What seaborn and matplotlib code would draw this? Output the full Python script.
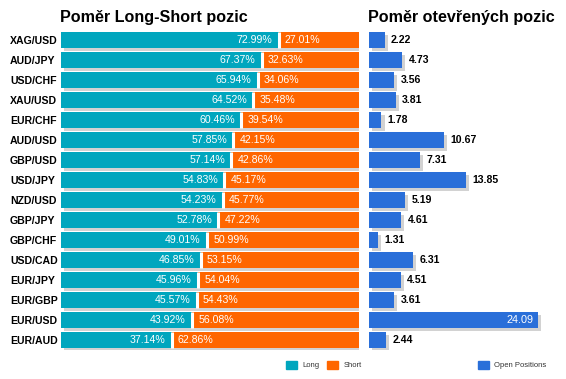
import matplotlib
matplotlib.use("Agg")
import matplotlib.pyplot as plt
import matplotlib.patheffects as pe
from matplotlib.patches import Patch
import seaborn as sns

pairs = ["XAG/USD", "AUD/JPY", "USD/CHF", "XAU/USD", "EUR/CHF", "AUD/USD",
         "GBP/USD", "USD/JPY", "NZD/USD", "GBP/JPY", "GBP/CHF", "USD/CAD",
         "EUR/JPY", "EUR/GBP", "EUR/USD", "EUR/AUD"]
long_pct = [72.99, 67.37, 65.94, 64.52, 60.46, 57.85, 57.14, 54.83,
            54.23, 52.78, 49.01, 46.85, 45.96, 45.57, 43.92, 37.14]
short_pct = [27.01, 32.63, 34.06, 35.48, 39.54, 42.15, 42.86, 45.17,
             45.77, 47.22, 50.99, 53.15, 54.04, 54.43, 56.08, 62.86]
open_pos = [2.22, 4.73, 3.56, 3.81, 1.78, 10.67, 7.31, 13.85,
            5.19, 4.61, 1.31, 6.31, 4.51, 3.61, 24.09, 2.44]

TEAL = "#00a6be"
ORANGE = "#ff6600"
BLUE = "#2a6fd9"
SHADOW = "#d2d2d2"

sns.set_style("white")
plt.rcParams["font.family"] = ["Liberation Sans", "DejaVu Sans"]
plt.rcParams["text.color"] = "black"
plt.rcParams["ytick.color"] = "black"

W, H = 566, 379
fig = plt.figure(figsize=(W / 100, H / 100), dpi=100)
ax1 = fig.add_axes([61 / W, 1 - 350 / H, 298 / W, 320 / H])
ax2 = fig.add_axes([369 / W, 1 - 350 / H, 189 / W, 320 / H])

shadow = [pe.SimplePatchShadow(offset=(2.2, -2.3), shadow_rgbFace=SHADOW, alpha=1), pe.Normal()]
bar_kw = dict(saturation=1, width=0.78, linewidth=0, edgecolor="none")

# left: stacked long/short (total bar in orange, long on top)
totals = [l + s for l, s in zip(long_pct, short_pct)]
sns.barplot(x=totals, y=pairs, color=ORANGE, ax=ax1, **bar_kw)
for p in ax1.patches:
    p.set_path_effects(shadow)
sns.barplot(x=long_pct, y=pairs, color=TEAL, ax=ax1, **bar_kw)
ys = list(range(len(pairs)))
ax1.vlines(long_pct, [y - 0.39 for y in ys], [y + 0.39 for y in ys], color="white", lw=2.2, zorder=3)

for i, (l, s) in enumerate(zip(long_pct, short_pct)):
    ax1.annotate(f"{l:.2f}%", (l, i), xytext=(-4.5, 0), textcoords="offset points",
                 ha="right", va="center", color="white", fontsize=7.6, zorder=4)
    ax1.annotate(f"{s:.2f}%", (l, i), xytext=(4.5, 0), textcoords="offset points",
                 ha="left", va="center", color="white", fontsize=7.6, zorder=4)

ax1.set_xlim(0, 100)
ax1.set_ylim(len(pairs) - 0.5, -0.5)
ax1.tick_params(axis="y", length=0, pad=36.7)
for t in ax1.get_yticklabels():
    t.set_ha("left")
    t.set_fontweight("bold")
    t.set_fontsize(7.6)
ax1.set_xticks([])

# right: open positions
sns.barplot(x=open_pos, y=pairs, color=BLUE, ax=ax2, **bar_kw)
for p in ax2.patches:
    p.set_path_effects(shadow)
for i, v in enumerate(open_pos):
    if v > 20:
        ax2.annotate(f"{v:.2f}", (v, i), xytext=(-3, 0), textcoords="offset points",
                     ha="right", va="center", color="white", fontsize=7.8)
    else:
        ax2.annotate(f"{v:.2f}", (v, i), xytext=(4.6, 0), textcoords="offset points",
                     ha="left", va="center", color="black", fontsize=7.6, fontweight="bold")
ax2.set_xlim(0, 27)
ax2.set_ylim(len(pairs) - 0.5, -0.5)
ax2.set_yticks([])
ax2.set_xticks([])

for ax in (ax1, ax2):
    ax.set_xlabel("")
    ax.set_ylabel("")
    sns.despine(ax=ax, left=True, bottom=True)

fig.text(60 / W, 1 - 22 / H, "Poměr Long-Short pozic", fontsize=11.6, fontweight="bold",
         ha="left", va="baseline")
fig.text(368 / W, 1 - 22 / H, "Poměr otevřených pozic", fontsize=11.6, fontweight="bold",
         ha="left", va="baseline")

leg_kw = dict(frameon=False, fontsize=5.5, handlelength=1.45, handleheight=1.35,
              handletextpad=0.7, columnspacing=1.0, borderpad=0, borderaxespad=0,
              labelcolor="#333333", loc="center left")
fig.legend(handles=[Patch(color=TEAL, label="Long"), Patch(color=ORANGE, label="Short")],
           ncol=2, bbox_to_anchor=(286 / W, 1 - 365 / H), **leg_kw)
fig.legend(handles=[Patch(color=BLUE, label="Open Positions")],
           ncol=1, bbox_to_anchor=(478 / W, 1 - 365 / H), **leg_kw)

fig.savefig("out.png", dpi=100)
